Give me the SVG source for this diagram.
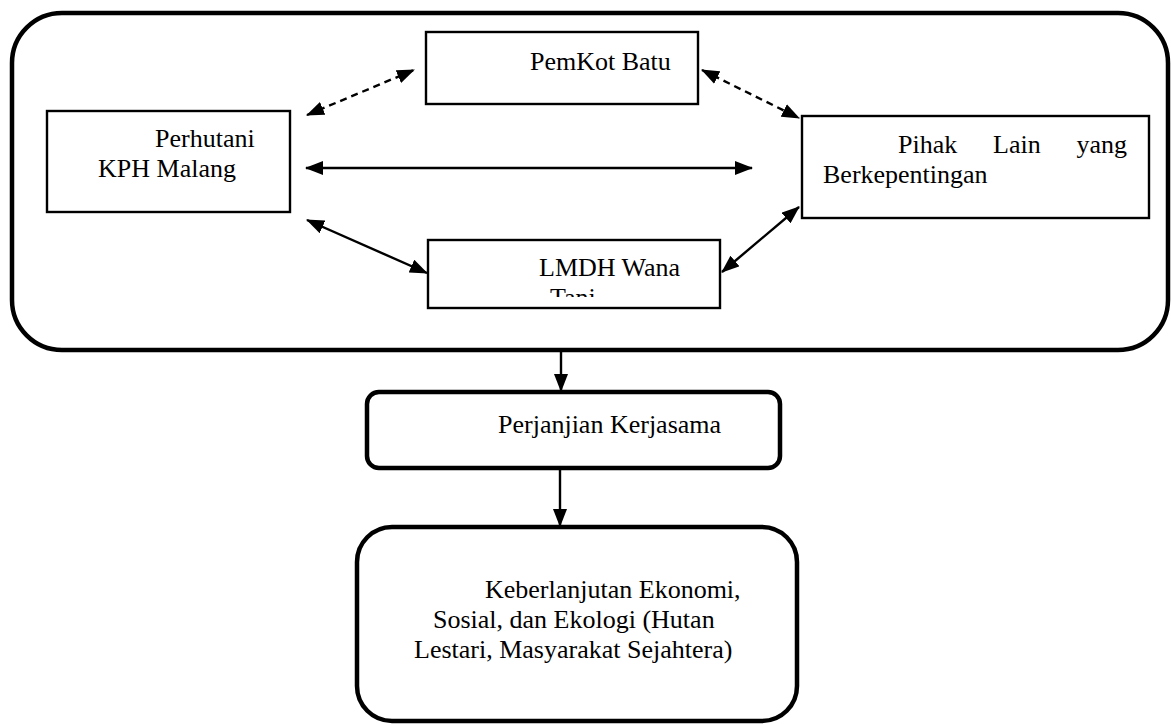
<svg xmlns="http://www.w3.org/2000/svg" width="1171" height="724" viewBox="0 0 1171 724">
<style>
.t{font-family:"Liberation Serif","Times New Roman",serif;font-size:26px;fill:#000}
.box{fill:#fff;stroke:#000;stroke-width:2.4}
.rbox{fill:#fff;stroke:#000;stroke-width:4.5}
.c{stroke:#000;stroke-width:2.4;fill:none}
.d{stroke-dasharray:7,5}
</style>
<defs>
<marker id="ah" viewBox="0 0 18 14" refX="17" refY="7" markerWidth="18" markerHeight="14" markerUnits="userSpaceOnUse" orient="auto-start-reverse">
<path d="M0,0 L18,7 L0,14 z" fill="#000"/>
</marker>
<clipPath id="clipL"><rect x="428" y="240" width="292" height="57"/></clipPath>
</defs>
<rect width="1171" height="724" fill="#fff"/>
<g id="outer">
<rect class="rbox" x="12" y="13" width="1156" height="337" rx="50"/>
</g>
<g id="perhutani">
<rect class="box" x="47" y="111" width="243" height="101"/>
<text class="t" x="155" y="147">Perhutani</text>
<text class="t" x="98" y="177">KPH Malang</text>
</g>
<g id="pemkot">
<rect class="box" x="426" y="32" width="272" height="72"/>
<text class="t" x="530" y="70">PemKot Batu</text>
</g>
<g id="pihak">
<rect class="box" x="802" y="116" width="347" height="102"/>
<text class="t" x="898" y="153">Pihak</text>
<text class="t" x="993" y="153">Lain</text>
<text class="t" x="1127" y="153" text-anchor="end">yang</text>
<text class="t" x="823" y="183">Berkepentingan</text>
</g>
<g id="lmdh">
<rect class="box" x="428" y="240" width="292" height="68"/>
<g clip-path="url(#clipL)">
<text class="t" x="539" y="276">LMDH Wana</text>
<text class="t" x="550" y="306">Tani</text>
</g>
</g>
<g id="perjanjian">
<rect class="rbox" x="367" y="392" width="413" height="76" rx="12"/>
<text class="t" x="498" y="433">Perjanjian Kerjasama</text>
</g>
<g id="keberlanjutan">
<rect class="rbox" x="357" y="527" width="440" height="194" rx="35"/>
<text class="t" x="485" y="598">Keberlanjutan Ekonomi,</text>
<text class="t" x="433" y="628">Sosial, dan Ekologi (Hutan</text>
<text class="t" x="414" y="658">Lestari, Masyarakat Sejahtera)</text>
</g>
<g id="connectors">
<line class="c d" x1="307" y1="115" x2="414" y2="70" marker-start="url(#ah)" marker-end="url(#ah)"/>
<line class="c d" x1="702" y1="70" x2="799" y2="118" marker-start="url(#ah)" marker-end="url(#ah)"/>
<line class="c" x1="306" y1="168" x2="752" y2="168" marker-start="url(#ah)" marker-end="url(#ah)"/>
<line class="c" x1="307" y1="220" x2="427" y2="273" marker-start="url(#ah)" marker-end="url(#ah)"/>
<line class="c" x1="722" y1="272" x2="799" y2="207" marker-start="url(#ah)" marker-end="url(#ah)"/>
<line class="c" x1="561" y1="352" x2="561" y2="391" marker-end="url(#ah)"/>
<line class="c" x1="560" y1="468" x2="560" y2="526" marker-end="url(#ah)"/>
</g>
</svg>
